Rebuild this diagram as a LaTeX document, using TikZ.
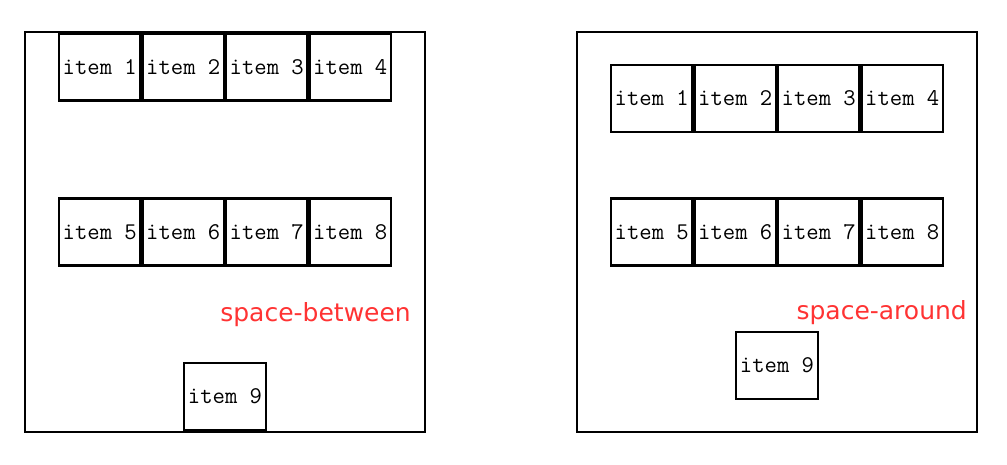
\documentclass[tikz,border=0pt]{standalone}
\usepackage{fontspec}
\newfontfamily\labelfont{DejaVu Sans}
\tikzset{
  container/.style={draw=black, line width=2.2pt},
  itembox/.style={draw=black, line width=2.2pt, minimum width=81.5pt, minimum height=67pt, inner sep=0pt, font=\fontsize{24}{26}\ttfamily, text=black},
  note/.style={text=red!80!white, font=\fontsize{25}{29}\labelfont, inner sep=0pt}
}
\begin{document}
\begin{tikzpicture}[x=1pt,y=-1pt]
\useasboundingbox (0,0) rectangle (1007,465);
\fill[white] (0,0) rectangle (1007,465);
% containers
\node[container, minimum width=400pt, minimum height=400pt, inner sep=0pt] (L) at (225,232) {};
\node[container, minimum width=400pt, minimum height=400pt, inner sep=0pt] (R) at (777,232) {};
% left items
\node[itembox] (l1) at (99.75,67) {item 1};
\node[itembox] (l2) at (183.25,67) {item 2};
\node[itembox] (l3) at (266.75,67) {item 3};
\node[itembox] (l4) at (350.25,67) {item 4};
\node[itembox] (l5) at (99.75,232) {item 5};
\node[itembox] (l6) at (183.25,232) {item 6};
\node[itembox] (l7) at (266.75,232) {item 7};
\node[itembox] (l8) at (350.25,232) {item 8};
\node[itembox] (l9) at (225,396.5) {item 9};
% right items
\node[itembox] (r1) at (651.75,98.5) {item 1};
\node[itembox] (r2) at (735.25,98.5) {item 2};
\node[itembox] (r3) at (818.75,98.5) {item 3};
\node[itembox] (r4) at (902.25,98.5) {item 4};
\node[itembox] (r5) at (651.75,232) {item 5};
\node[itembox] (r6) at (735.25,232) {item 6};
\node[itembox] (r7) at (818.75,232) {item 7};
\node[itembox] (r8) at (902.25,232) {item 8};
\node[itembox] (r9) at (777,365.5) {item 9};
% labels
\node[note, anchor=base east] (tl) at (411,321) {space-between};
\node[note, anchor=base east] (tr) at (967,319) {space-around};
\end{tikzpicture}
\end{document}
